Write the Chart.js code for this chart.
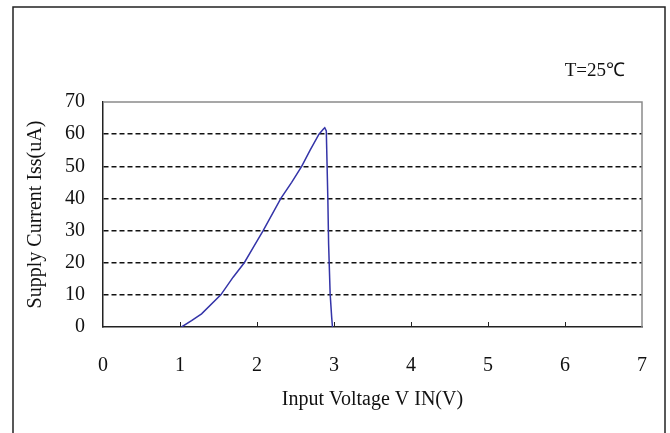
<!DOCTYPE html>
<html>
<head>
<meta charset="utf-8">
<script src="https://cdn.jsdelivr.net/npm/chart.js@4/dist/chart.umd.min.js"></script>
<style>
  body { margin: 0; background: #fff; }
  canvas { display: block; }
</style>
</head>
<body>
<canvas id="chart" width="670" height="433"></canvas>
<script>
// Supply current vs input voltage
const voltage = [1.02, 1.15, 1.28, 1.53, 1.69, 1.835, 1.965, 2.08, 2.31, 2.45, 2.58, 2.69, 2.805, 2.86, 2.88, 2.9, 2.92, 2.93, 2.95, 2.97, 2.98];
const current = [0, 2, 4.1, 10, 15.5, 20, 25.3, 30, 40, 45, 50, 55, 60, 61.5, 62, 61, 40, 25.8, 10.3, 3, 0];
const xTicks = [0, 1, 2, 3, 4, 5, 6, 7];
const yTicks = [0, 10, 20, 30, 40, 50, 60, 70];
const note = 'T=25℃';

const FONT = '"Liberation Serif", "Times New Roman", serif';
Chart.defaults.font.family = FONT;
Chart.defaults.font.size = 20;
Chart.defaults.color = '#111';

// outer frame, plot frame, inner ticks on x axis and the temperature note
const decor = {
  id: 'decor',
  beforeDraw(chart) {
    const { ctx } = chart;
    ctx.save();
    ctx.strokeStyle = '#222';
    ctx.lineWidth = 1.5;
    ctx.strokeRect(13, 7, 652, 440);
    ctx.restore();
  },
  beforeDatasetsDraw(chart) {
    const { ctx, chartArea: a, scales } = chart;
    ctx.save();
    ctx.strokeStyle = '#8a8a8a';
    ctx.lineWidth = 1.5;
    ctx.beginPath();
    ctx.moveTo(a.left, a.top);
    ctx.lineTo(a.right, a.top);
    ctx.lineTo(a.right, a.bottom);
    ctx.stroke();
    // short tick marks pointing into the plot
    ctx.strokeStyle = '#222';
    ctx.lineWidth = 1;
    xTicks.slice(1, -1).forEach(v => {
      const px = Math.round(scales.x.getPixelForValue(v)) + 0.5;
      ctx.beginPath();
      ctx.moveTo(px, a.bottom);
      ctx.lineTo(px, a.bottom - 5);
      ctx.stroke();
    });
    ctx.fillStyle = '#111';
    ctx.font = '19px ' + FONT;
    ctx.textAlign = 'right';
    ctx.textBaseline = 'middle';
    ctx.fillText(note, 625, 71);
    ctx.restore();
  }
};

new Chart(document.getElementById('chart'), {
  type: 'scatter',
  data: {
    datasets: [{
      data: voltage.map((v, i) => ({ x: v, y: current[i] })),
      showLine: true,
      borderColor: '#3434a8',
      borderWidth: 1.5,
      pointRadius: 0,
      tension: 0
    }]
  },
  options: {
    responsive: false,
    animation: false,
    layout: { padding: { left: 0, top: 102, right: 28, bottom: 0 } },
    plugins: { legend: { display: false }, tooltip: { enabled: false } },
    scales: {
      x: {
        type: 'linear',
        min: 0,
        max: 7,
        afterBuildTicks: s => { s.ticks = xTicks.map(v => ({ value: v })); },
        afterFit: s => {
          s.height = 106;
          s.paddingLeft = 0;
          s.paddingRight = 0;
        },
        grid: { drawOnChartArea: false, drawTicks: false },
        border: { display: true, color: '#222', width: 1.5 },
        ticks: { padding: 27, color: '#111' },
        title: {
          display: true,
          text: 'Input Voltage V IN(V)',
          color: '#111',
          font: { size: 20 },
          padding: { top: 0, bottom: 21 }
        }
      },
      y: {
        min: 0,
        max: 70,
        afterBuildTicks: s => { s.ticks = yTicks.map(v => ({ value: v })); },
        afterFit: s => { s.width = 103; },
        grid: {
          drawTicks: false,
          lineWidth: 1.5,
          color: c => (c.tick && (c.tick.value === 0 || c.tick.value === 70)) ? 'rgba(0,0,0,0)' : '#111'
        },
        border: { display: true, color: '#222', width: 1.5, dash: [5, 3] },
        ticks: { padding: 18, color: '#111' },
        title: {
          display: true,
          text: 'Supply Current Iss(uA)',
          color: '#111',
          font: { size: 20 },
          padding: { top: 24, bottom: 0 }
        }
      }
    }
  },
  plugins: [decor]
});
</script>
</body>
</html>
